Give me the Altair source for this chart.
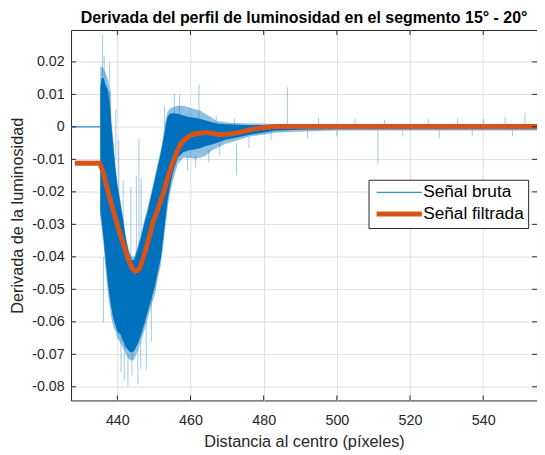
import altair as alt
import pandas as pd

# ---------------- data ----------------
# raw signal: flat part before the edge
raw_flat_x = [427.6, 435.34]
raw_flat_y = [0.0, 0.0]

# raw signal: envelope of the noise (outer, lighter) and dense core (inner)
band_x = [435.34, 435.7, 436.2, 436.8, 437.5, 438.0, 438.4, 438.9, 439.5, 440.0,
          440.9, 441.6, 442.4, 443.2, 443.9, 444.6, 445.5, 446.5, 447.3, 448.3,
          449.3, 450.3, 451.0, 451.8, 452.4, 453.2, 453.7, 454.3, 455.1, 456.5,
          458.0, 459.6, 461.0, 462.6, 464.0, 465.6, 467.2, 469.6, 471.8, 474.7,
          476.1, 479.7, 483.0, 489.7, 500.0, 520.0, 540.0, 555.0]
outer_hi = [0.0185, 0.0185, 0.018, 0.0165, 0.0145, 0.010, 0.002, -0.004, -0.012, -0.017,
            -0.023, -0.028, -0.034, -0.038, -0.040, -0.040, -0.037, -0.033, -0.029, -0.0245,
            -0.020, -0.015, -0.0115, -0.0073, -0.004, 0.002, 0.0045, 0.0055, 0.006, 0.0065,
            0.0065, 0.006, 0.0055, 0.005, 0.004, 0.003, 0.0018, 0.0014, 0.0012, 0.0011,
            0.0010, 0.0010, 0.0009, 0.0009, 0.0008, 0.0008, 0.0009, 0.0009]
outer_lo = [-0.028, -0.031, -0.036, -0.044, -0.052, -0.056, -0.059, -0.0615, -0.063, -0.065,
            -0.0665, -0.068, -0.070, -0.0715, -0.072, -0.0715, -0.069, -0.066, -0.063, -0.059,
            -0.055, -0.0515, -0.047, -0.043, -0.038, -0.030, -0.0255, -0.021, -0.017, -0.0115,
            -0.0095, -0.0095, -0.0098, -0.0095, -0.009, -0.0075, -0.0065, -0.0052, -0.0045, -0.0035,
            -0.003, -0.0024, -0.0018, -0.0015, -0.0011, -0.0011, -0.0011, -0.0011]
inner_hi = [0.012, 0.015, 0.015, 0.013, 0.011, 0.006, 0.0, -0.006, -0.013, -0.018,
            -0.024, -0.029, -0.035, -0.039, -0.041, -0.041, -0.038, -0.034, -0.030, -0.026,
            -0.021, -0.016, -0.0125, -0.0085, -0.005, 0.0005, 0.003, 0.004, 0.0042, 0.004,
            0.0035, 0.003, 0.0028, 0.0025, 0.002, 0.0015, 0.001, 0.0008, 0.0007, 0.0006,
            0.0006, 0.0006, 0.0006, 0.0006, 0.0005, 0.0005, 0.0005, 0.0005]
inner_lo = [-0.026, -0.029, -0.034, -0.041, -0.049, -0.053, -0.056, -0.059, -0.061, -0.063,
            -0.064, -0.066, -0.068, -0.069, -0.0695, -0.069, -0.067, -0.064, -0.061, -0.057,
            -0.053, -0.049, -0.045, -0.041, -0.036, -0.028, -0.023, -0.019, -0.0145, -0.0095,
            -0.0078, -0.0072, -0.007, -0.0066, -0.006, -0.0055, -0.005, -0.004, -0.0035, -0.0028,
            -0.0024, -0.0018, -0.0012, -0.0009, -0.0007, -0.0007, -0.0007, -0.0007]

# raw signal: isolated spikes (x, from, to)
spike_x = [435.96, 436.4, 437.9, 438.1, 439.6, 440.4, 441.6, 443.7, 445.2, 445.9, 446.5,
           452.9, 455.6, 457.0, 462.3, 486.5, 551.4, 467.0, 472.0, 495.0, 505.0, 513.0,
           525.0, 533.0, 540.0, 546.0,
           436.2, 441.0, 441.9, 442.9, 444.0, 445.6, 446.4, 447.9, 449.3,
           459.2, 461.4, 465.0, 468.0, 472.6, 476.0, 511.2,
           482.0, 492.0, 500.0, 518.0, 528.0, 537.0, 548.0]
spike_y1 = [0.005, 0.005, 0.0, 0.0, -0.01, -0.04, -0.05, -0.05, -0.05, -0.05, -0.05,
            0.0, 0.0, 0.0, 0.0, 0.0, 0.0, 0.0, 0.0, 0.0, 0.0, 0.0,
            0.0, 0.0, 0.0, 0.0,
            -0.04, -0.065, -0.065, -0.07, -0.07, -0.068, -0.066, -0.06, -0.05,
            -0.009, -0.009, -0.007, -0.005, -0.005, -0.003, -0.001,
            -0.001, -0.001, -0.001, -0.001, -0.001, -0.001, -0.001]
spike_y2 = [0.0283, 0.022, 0.0198, 0.011, 0.0055, -0.0043, -0.0164, -0.0185, -0.015, -0.0036, -0.0158,
            0.0064, 0.0103, 0.010, 0.013, 0.0122, 0.0043, 0.0035, 0.0025, 0.0028, 0.0025, 0.0023,
            0.0025, 0.0027, 0.0024, 0.003,
            -0.060, -0.0755, -0.078, -0.0798, -0.0765, -0.0793, -0.0745, -0.0748, -0.066,
            -0.0135, -0.0125, -0.011, -0.009, -0.0149, -0.0065, -0.0113,
            -0.004, -0.0035, -0.003, -0.003, -0.0035, -0.0028, -0.003]

# filtered signal
filt_x = [428.4, 435.2, 436.0, 437.6, 439.2, 440.6, 441.8, 442.9, 444.0, 444.9, 446.0,
          447.0, 448.3, 449.7, 451.0, 452.4, 453.7, 455.0, 456.3, 457.8, 459.5, 461.0,
          464.5, 468.0, 471.7, 474.5, 477.0, 480.0, 483.3, 555.0]
filt_y = [-0.0112, -0.0112, -0.0135, -0.0205, -0.027, -0.0325, -0.0365, -0.0405, -0.0435, -0.0445, -0.0438,
          -0.0407, -0.0357, -0.0296, -0.0255, -0.021, -0.016, -0.0115, -0.0075, -0.0045, -0.003, -0.0022,
          -0.0017, -0.0024, -0.0021, -0.0014, -0.0007, -0.0002, 0.0001, 0.0001]

series_names = ["Señal bruta", "Señal filtrada"]
x_ticks = [440, 460, 480, 500, 520, 540]
y_ticks = [-0.08, -0.07, -0.06, -0.05, -0.04, -0.03, -0.02, -0.01, 0.0, 0.01, 0.02]

TITLE = "Derivada del perfil de luminosidad en el segmento 15° - 20°"
X_TITLE = "Distancia al centro (píxeles)"
Y_TITLE = "Derivada de la luminosidad"

# ---------------- chart ----------------
W, H = 473, 376
X_DOM = [427.35, 554.7]
Y_DOM = [-0.0842, 0.0298]
FONT = "Liberation Sans"
AX = "#262626"
BLUE = "#0072BD"
ORANGE = "#D95319"

xscale = alt.Scale(domain=X_DOM, nice=False, zero=False)
yscale = alt.Scale(domain=Y_DOM, nice=False, zero=False)
xaxis = alt.Axis(values=x_ticks, format="d", title=X_TITLE, grid=True, ticks=False, tickSize=0,
                 domain=False, labelPadding=13, titlePadding=7)
yaxis = alt.Axis(values=y_ticks, title=Y_TITLE, grid=True, ticks=False, tickSize=0, domain=False,
                 labelPadding=7, titlePadding=6,
                 labelExpr="datum.value == 0 ? '0' : (datum.value < 0 ? '-' : '') + format(abs(datum.value), '.2f')")


def X(field="x"):
    return alt.X(f"{field}:Q", scale=xscale, axis=xaxis)


def Y(field):
    return alt.Y(f"{field}:Q", scale=yscale, axis=yaxis)


band_df = pd.DataFrame({"x": band_x, "ohi": outer_hi, "olo": outer_lo, "ihi": inner_hi, "ilo": inner_lo})
spike_df = pd.DataFrame({"x": spike_x, "y1": spike_y1, "y2": spike_y2})
lines_df = pd.concat([
    pd.DataFrame({"x": raw_flat_x, "y": raw_flat_y, "serie": series_names[0], "o": range(len(raw_flat_x))}),
    pd.DataFrame({"x": filt_x, "y": filt_y, "serie": series_names[1], "o": range(len(filt_x))}),
])

spikes = alt.Chart(spike_df).mark_rule(color=BLUE, opacity=0.38, strokeWidth=1, clip=True).encode(
    x=X(), y=Y("y1"), y2="y2:Q")

outer = alt.Chart(band_df).mark_area(color=BLUE, opacity=0.45, clip=True).encode(
    x=X(), y=Y("olo"), y2="ohi:Q")
inner = alt.Chart(band_df).mark_area(color=BLUE, opacity=1, clip=True).encode(
    x=X(), y=Y("ilo"), y2="ihi:Q")

# legend symbol: a 46 px line drawn by a custom path, so that rows stay compact
legend = alt.Legend(title=None, orient="none", legendX=302, legendY=152, fillColor="white",
                    strokeColor=AX, padding=4, symbolType="M-1,0H9", symbolSize=84.6,
                    labelFontSize=17.5, labelFont=FONT, labelColor="black", rowPadding=2,
                    labelOffset=34, labelLimit=400)

lines = alt.Chart(lines_df).mark_line(clip=True).encode(
    x=X(), y=Y("y"), order="o:Q",
    color=alt.Color("serie:N", scale=alt.Scale(domain=series_names, range=[BLUE, ORANGE]), legend=legend),
    strokeWidth=alt.StrokeWidth("serie:N", scale=alt.Scale(domain=series_names, range=[1, 5]), legend=legend),
)

xt_df = pd.DataFrame({"x": x_ticks})
yt_df = pd.DataFrame({"y": y_ticks})
xt_bot = alt.Chart(xt_df).mark_rule(color=AX).encode(x=X(), y=alt.value(H), y2=alt.value(H - 5))
xt_top = alt.Chart(xt_df).mark_rule(color=AX).encode(x=X(), y=alt.value(0), y2=alt.value(5))
yt_l = alt.Chart(yt_df).mark_rule(color=AX).encode(y=Y("y"), x=alt.value(0), x2=alt.value(5))
yt_r = alt.Chart(yt_df).mark_rule(color=AX).encode(y=Y("y"), x=alt.value(W - 5), x2=alt.value(W))

chart = alt.layer(spikes, outer, inner, lines, xt_bot, xt_top, yt_l, yt_r).properties(
    width=W, height=H,
    background="white",
    title=alt.TitleParams(TITLE, font=FONT, fontSize=16.2, fontWeight="bold", color="black", offset=3),
    autosize=alt.AutoSizeParams(type="none"),
    padding={"left": 64, "top": 19, "right": 0, "bottom": 50},
).configure_view(stroke=AX, strokeWidth=1).configure_axis(
    labelFont=FONT, labelFontSize=14.5, labelColor=AX, titleFont=FONT, titleFontSize=16.5,
    titleColor=AX, titleFontWeight="normal", gridColor="#e0e0e0", gridWidth=1,
)

chart.save("out.html", embed_options={"renderer": "svg", "actions": False})
